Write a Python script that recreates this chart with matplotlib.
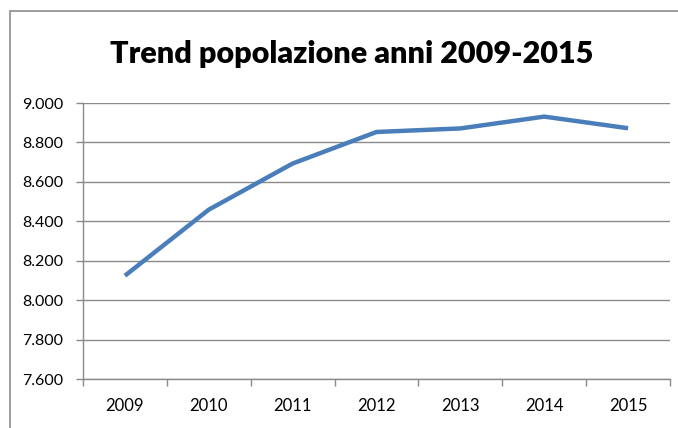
import numpy as np
import matplotlib.pyplot as plt
from matplotlib.patches import Rectangle
from matplotlib.ticker import FuncFormatter, FixedLocator

# dati popolazione
anni = ["2009", "2010", "2011", "2012", "2013", "2014", "2015"]
popolazione = [8124, 8459, 8693, 8853, 8871, 8931, 8872]

plt.rcParams['font.family'] = ['Lato', 'DejaVu Sans']

fig = plt.figure(figsize=(6.78, 4.28), dpi=100)
ax = fig.add_axes([83/678, 1-379/428, (670-83)/678, (379-103)/428])

# cornice esterna del grafico
fig.patches.append(Rectangle((10/678, -0.1), 1.2, 1-11/428+0.1, transform=fig.transFigure,
                             fill=False, edgecolor="#8c8c8c", linewidth=1.2))

x = np.arange(len(anni))
ax.plot(x, popolazione, color="#4a7ebb", linewidth=3.2, solid_capstyle="butt")

# asse y
ax.set_ylim(7600, 9000)
ax.set_yticks(np.arange(7600, 9001, 200))
ax.yaxis.set_major_formatter(FuncFormatter(lambda v, p: f"{v:,.0f}".replace(",", ".")))
ax.grid(axis="y", color="#8a8a8a", linewidth=1)
ax.set_axisbelow(True)

# asse x con tacche tra le categorie
ax.set_xlim(-0.5, len(anni) - 0.5)
ax.set_xticks(x)
ax.set_xticklabels(anni)
ax.xaxis.set_minor_locator(FixedLocator(np.arange(-0.5, len(anni), 1.0)))
ax.tick_params(axis="x", which="major", length=0, pad=14, labelsize=12)
ax.tick_params(axis="x", which="minor", length=5, color="#8a8a8a", width=1)
ax.tick_params(axis="y", length=5, color="#8a8a8a", width=1, labelsize=11.5, pad=9)

for s in ["top", "right"]:
    ax.spines[s].set_visible(False)
for s in ["left", "bottom"]:
    ax.spines[s].set_color("#8a8a8a")
    ax.spines[s].set_linewidth(1)

fig.text(0.519, 1-54/428, "Trend popolazione anni 2009-2015", ha="center", va="center",
         fontsize=22, fontweight="heavy")

fig.savefig("out.png", dpi=100)
